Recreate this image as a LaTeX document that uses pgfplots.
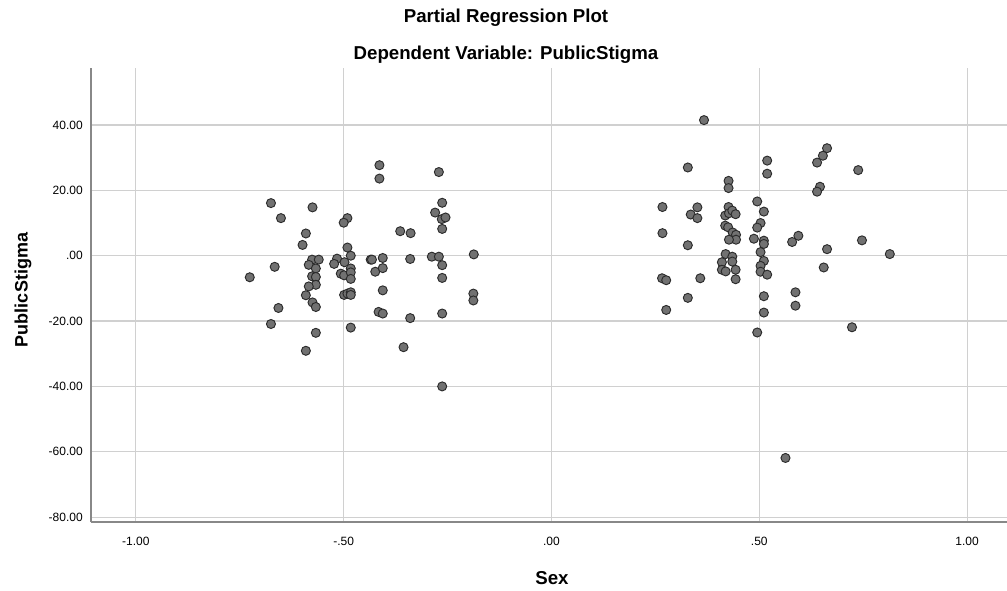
\documentclass[border=0pt]{standalone}
\usepackage{fontspec}
\setmainfont{Liberation Sans}
\usepackage{pgfplots}
\pgfplotsset{compat=1.18}
\definecolor{ptfill}{HTML}{717171}
\definecolor{ptdraw}{HTML}{2B2B2B}
\definecolor{gridc}{HTML}{D0D0D0}
\definecolor{axc}{HTML}{888888}
\begin{document}
\begin{tikzpicture}
\begin{axis}[
 at={(0pt,0pt)}, anchor=south west,
 scale only axis, width=687pt, height=340.5pt,
 xmin=-1.108, xmax=1.096, ymin=-81.5, ymax=57.45,
 axis x line*=bottom, axis y line*=left,
 axis line style={-, draw=axc, line width=0.9pt},
 xtick={-1,-0.5,0,0.5,1}, xticklabels={-1.00,-.50,.00,.50,1.00},
 ytick={-80,-60,-40,-20,0,20,40},
 yticklabels={-80.00,-60.00,-40.00,-20.00,.00,20.00,40.00},
 major tick length=0pt,
 grid=major, major grid style={draw=gridc, line width=0.9pt},
 tick label style={font=\fontsize{9}{10}\selectfont, text=black},
 xticklabel style={anchor=center, yshift=-14.25pt, inner sep=0pt},
 yticklabel style={anchor=east, xshift=-6pt, inner sep=0pt},
 clip=false,
]
\addplot[only marks, mark=*, mark size=3.4pt,
  mark options={fill=ptfill, draw=ptdraw, line width=0.7pt}] coordinates {
(-0.675,16.1) (-0.575,14.8) (-0.651,11.5) (-0.491,11.5) (-0.500,10.1)
(-0.591,6.8) (-0.599,3.3) (-0.491,2.5) (-0.483,0.0) (-0.576,-1.2)
(-0.560,-1.2) (-0.516,-0.9) (-0.584,-2.8) (-0.523,-2.5) (-0.498,-2.0)
(-0.567,-3.9) (-0.666,-3.4) (-0.483,-3.9) (-0.507,-5.5) (-0.499,-6.0)
(-0.483,-5.1) (-0.726,-6.6) (-0.576,-6.3) (-0.567,-6.5) (-0.483,-7.1)
(-0.567,-8.9) (-0.584,-9.4) (-0.435,-1.2) (-0.591,-12.1) (-0.575,-14.3)
(-0.567,-15.7) (-0.499,-12.0) (-0.491,-11.6) (-0.483,-11.2) (-0.483,-12.0)
(-0.657,-16.0) (-0.675,-20.9) (-0.567,-23.6) (-0.483,-22.0) (-0.591,-29.1)
(-0.414,27.7) (-0.414,23.6) (-0.271,25.6) (-0.263,16.2) (-0.280,13.2)
(-0.264,11.2) (-0.255,11.7) (-0.263,8.2) (-0.364,7.5) (-0.339,6.9)
(-0.432,-1.2) (-0.406,-0.7) (-0.340,-1.0) (-0.288,-0.3) (-0.271,-0.3)
(-0.263,-2.9) (-0.187,0.4) (-0.424,-4.9) (-0.406,-3.8) (-0.263,-6.8)
(-0.406,-10.6) (-0.188,-11.6) (-0.188,-13.7) (-0.416,-17.2) (-0.406,-17.7)
(-0.340,-19.1) (-0.263,-17.7) (-0.356,-28.0) (-0.263,-40.0)
(0.367,41.5) (0.328,27.0) (0.519,29.1) (0.519,25.1) (0.426,22.9)
(0.426,20.7) (0.267,14.9) (0.351,14.8) (0.335,12.6) (0.351,11.5)
(0.426,14.9) (0.418,12.3) (0.427,13.0) (0.435,13.8) (0.443,12.7)
(0.495,16.6) (0.511,13.5) (0.503,10.0) (0.495,8.6) (0.418,9.2)
(0.425,8.7) (0.436,7.1) (0.444,6.4) (0.444,4.9) (0.427,4.9)
(0.487,5.2) (0.511,4.6) (0.511,3.6) (0.267,6.9) (0.328,3.2)
(0.503,1.1) (0.419,0.5) (0.435,-0.3) (0.435,-1.8) (0.410,-2.0)
(0.443,-4.3) (0.410,-4.3) (0.419,-4.8) (0.443,-7.2) (0.358,-6.9)
(0.266,-6.9) (0.276,-7.5) (0.328,-12.9) (0.276,-16.6) (0.511,-1.6)
(0.503,-3.1) (0.503,-4.9) (0.519,-5.8) (0.511,-12.4) (0.511,-17.4)
(0.495,-23.5) (0.663,32.9) (0.653,30.6) (0.639,28.5) (0.738,26.2)
(0.646,21.1) (0.639,19.6) (0.594,6.1) (0.579,4.2) (0.747,4.7)
(0.663,2.0) (0.814,0.5) (0.655,-3.6) (0.587,-11.2) (0.587,-15.3)
(0.723,-21.9) (0.563,-61.9)
};
\end{axis}
\node[font=\fontsize{14}{16}\selectfont\bfseries] at (311.25pt,378pt) {Partial Regression Plot};
\node[font=\fontsize{14}{16}\selectfont\bfseries] at (311.25pt,350.25pt) {Dependent Variable: PublicStigma};
\node[font=\fontsize{14}{16}\selectfont\bfseries] at (345.75pt,-42pt) {Sex};
\node[font=\fontsize{13.5}{16}\selectfont\bfseries, rotate=90] at (-51pt,174pt) {PublicStigma};
\pgfresetboundingbox
\path (-68.25pt,-51pt) rectangle (687pt,391.5pt);
\end{tikzpicture}
\end{document}
